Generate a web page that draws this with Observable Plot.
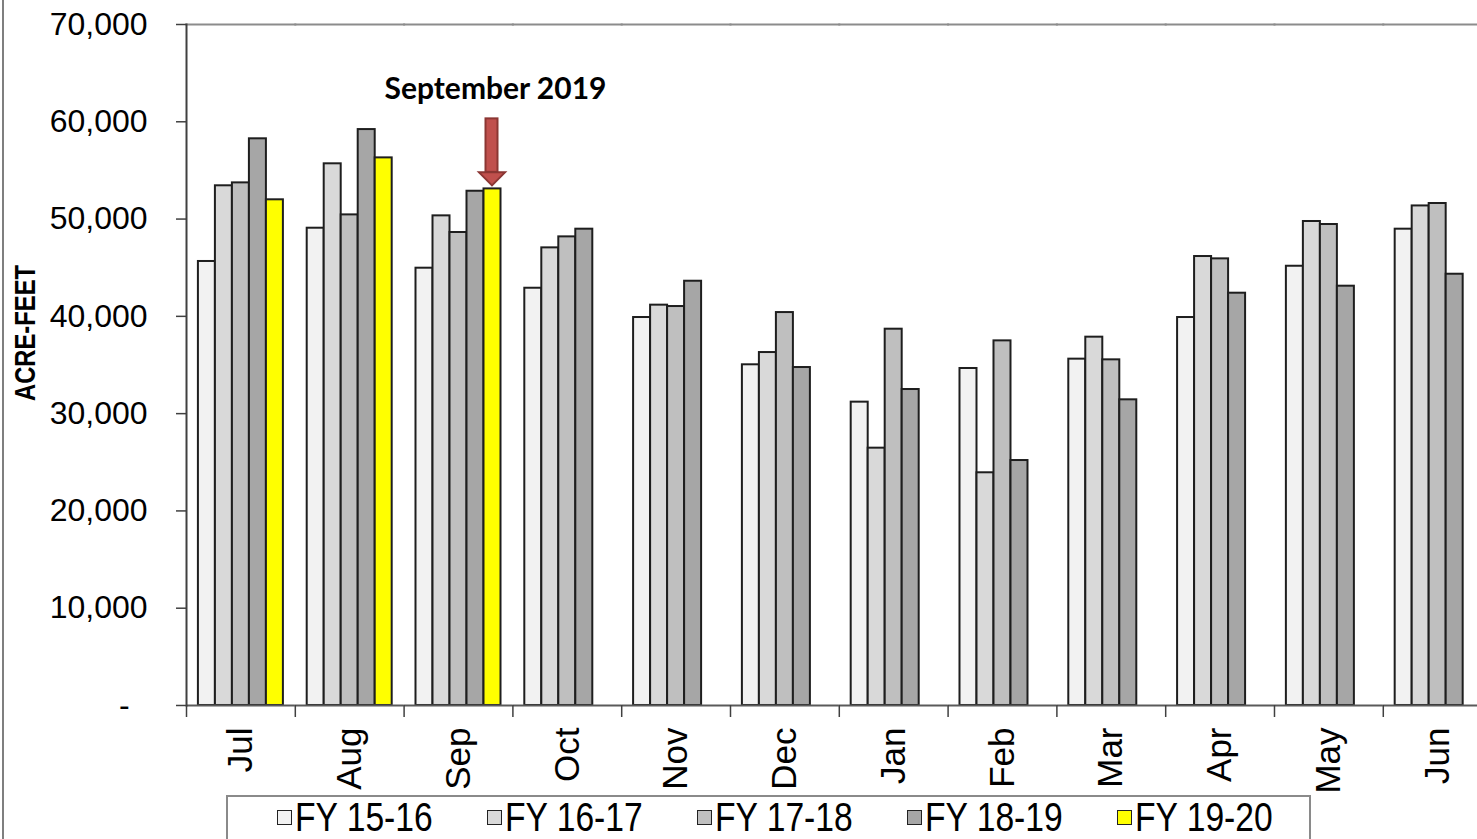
<!DOCTYPE html>
<html>
<head>
<meta charset="utf-8">
<script src="https://cdn.jsdelivr.net/npm/d3@7"></script>
<script src="https://cdn.jsdelivr.net/npm/@observablehq/plot@0.6"></script>
<style>
html, body { margin: 0; padding: 0; background: #fff; overflow: hidden; width: 1477px; height: 839px; }
#wrap { position: relative; width: 1477px; height: 839px; overflow: hidden; }
#border { position: absolute; left: 2px; top: -10px; width: 1700px; height: 1000px; border: 2px solid #7f7f7f; box-sizing: border-box; }
#chart { position: absolute; left: 0; top: 0; }
#legend { position: absolute; left: 226px; top: 795px; width: 1085px; height: 70px; border: 2px solid #8a8a8a; box-sizing: border-box; background: #fff; }
#legend > div { margin: 0 !important; padding: 0 0 0 49px !important; display: flex !important; flex-wrap: nowrap !important; min-height: 0 !important; }
#legend .lg-swatch { width: 210px; flex: none; margin: 0 !important; display: inline-flex; align-items: center; font-family: "Liberation Sans", Arial, sans-serif; font-size: 41px; line-height: 41px; height: 41px; color: #000; white-space: nowrap; }
#legend .lg-swatch:last-child { width: 160px; }
#legend .lg-swatch svg { width: 15px !important; height: 15px !important; flex: none; border: 1.5px solid #222; box-sizing: border-box; margin: 0 3px 0 0 !important; }
#legend .lg-swatch .lbl { display: inline-block; transform: scaleX(0.82); transform-origin: left center; }
</style>
</head>
<body>
<div id="wrap">
  <div id="border"></div>
  <div id="chart"></div>
  <div id="legend"></div>
</div>
<script>
// ---- data (acre-feet) ----
const months = ["Jul", "Aug", "Sep", "Oct", "Nov", "Dec", "Jan", "Feb", "Mar", "Apr", "May", "Jun"];
const series = ["FY 15-16", "FY 16-17", "FY 17-18", "FY 18-19", "FY 19-20"];
const seriesColors = ["#f2f2f2", "#d9d9d9", "#bfbfbf", "#a6a6a6", "#ffff00"];
const fy1516 = [45640, 49060, 44950, 42890, 39880, 35020, 31180, 34640, 35600, 39880, 45150, 48960];
const fy1617 = [53420, 55680, 50330, 47040, 41150, 36280, 26450, 23920, 37860, 46150, 49750, 51350];
const fy1718 = [53720, 50430, 48620, 48170, 41010, 40390, 38680, 37480, 35530, 45910, 49440, 51600];
const fy1819 = [58250, 59200, 52860, 48960, 43610, 34740, 32480, 25180, 31420, 42380, 43100, 44330];
const fy1920 = [51980, 56290, 53100];
const yTicks = [0, 10000, 20000, 30000, 40000, 50000, 60000, 70000];
const yLabel = "ACRE-FEET";

// annotation
const annoMonth = "Sep";
const annoSeries = "FY 19-20";
const annoText = "September 2019";
const annoTextY = 63300;
const arrowTopY = 60300;
const arrowHeadY = 54800;

const seriesValues = [fy1516, fy1617, fy1718, fy1819, fy1920];
const data = series.flatMap((s, i) =>
  seriesValues[i].map((v, j) => ({ month: months[j], series: s, value: v }))
);

const bandW = 108.8;

const headSymbol = {
  draw(ctx) {
    ctx.moveTo(-13, 0);
    ctx.lineTo(13, 0);
    ctx.lineTo(0, 13);
    ctx.closePath();
  }
};

const chart = Plot.plot({
  width: 186 + 12 * bandW,
  height: 795,
  marginLeft: 186,
  marginRight: 0,
  marginTop: 24,
  marginBottom: 90,
  style: { fontFamily: "'Liberation Sans', Arial, sans-serif", background: "transparent", overflow: "visible", maxWidth: "none", color: "#000" },
  fx: { domain: months, padding: 0, round: false, label: null },
  x: { domain: series, paddingInner: 0, paddingOuter: 0.7, round: false, axis: null },
  y: { domain: [0, 70000], axis: null },
  color: { domain: series, range: seriesColors },
  marks: [
    Plot.frame({ anchor: "top", stroke: "#8c8c8c", strokeWidth: 2 }),
    Plot.barY(data, { fx: "month", x: "series", y: "value", fill: "series", stroke: "#1e1e1e", strokeWidth: 2 }),
    Plot.ruleY([0], { stroke: "#5a5a5a", strokeWidth: 2 }),
    Plot.frame({ anchor: "left", facetAnchor: "left", stroke: "#404040", strokeWidth: 2 }),
    Plot.axisY({
      ticks: yTicks, tickSize: 10, tickPadding: 29, fontSize: 32, label: null,
      stroke: "#404040", strokeWidth: 1.5,
      tickFormat: d => d === 0 ? "-\u00a0\u00a0" : d3.format(",")(d)
    }),
    Plot.axisFx({ anchor: "bottom", tickSize: 12, tickPadding: 0, tickFormat: () => "", dx: -bandW / 2, label: null, stroke: "#404040", strokeWidth: 1.5 }),
    Plot.axisFx({ anchor: "bottom", tickSize: 0, tickPadding: 22, tickRotate: -90, fontSize: 35, label: null }),
    Plot.text([yLabel], {
      fx: [months[0]], frameAnchor: "left", textAnchor: "middle", dx: -161, dy: -32, rotate: -90,
      fontSize: 29, fontWeight: "bold", fill: "#000", className: "ylab"
    }),
    Plot.text([annoText], {
      fx: [annoMonth], x: [annoSeries], y: [annoTextY], dx: 3,
      fontSize: 30, fontWeight: "bold", fontFamily: "Lato, 'Open Sans', sans-serif", fill: "#000"
    }),
    Plot.barY([annoText], {
      fx: [annoMonth], x: [annoSeries], y1: [arrowTopY], y2: [arrowHeadY],
      insetLeft: 2, insetRight: 3, fill: "#c0504d", stroke: "#8b3633", strokeWidth: 2
    }),
    Plot.dot([annoText], {
      fx: [annoMonth], x: [annoSeries], y: [arrowHeadY], dx: -0.5,
      symbol: headSymbol, fill: "#c0504d", stroke: "#8b3633", strokeWidth: 2
    })
  ]
});
// condense the y-axis title (narrow bold face in the original)
d3.select(chart).selectAll(".ylab text").each(function () {
  const t = d3.select(this);
  const tr = t.attr("transform") || "";
  t.attr("transform", tr + " scale(0.82,1)");
});
document.getElementById("chart").appendChild(chart);

const legend = Plot.legend({
  color: { domain: series, range: seriesColors },
  legend: "swatches",
  swatchSize: 15,
  className: "lg"
});
// wrap each swatch label so that only the text is condensed
legend.querySelectorAll(".lg-swatch").forEach(sw => {
  [...sw.childNodes].forEach(n => {
    if (n.nodeType === 3 && n.textContent.trim()) {
      const s = document.createElement("span");
      s.className = "lbl";
      s.textContent = n.textContent;
      sw.replaceChild(s, n);
    } else if (n.nodeType === 1 && n.tagName.toLowerCase() === "span") {
      n.classList.add("lbl");
    }
  });
});
document.getElementById("legend").appendChild(legend);
</script>
</body>
</html>
